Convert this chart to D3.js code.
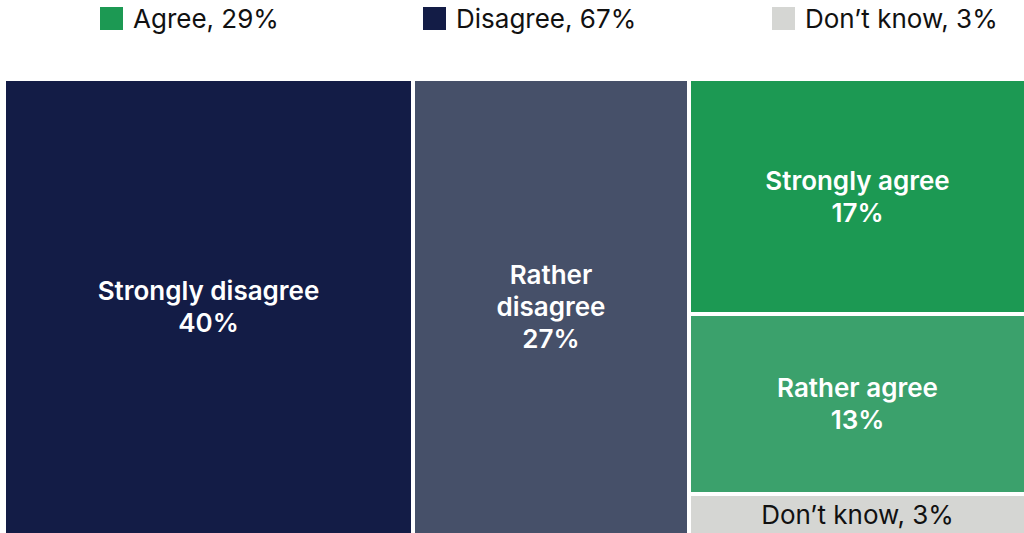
<!DOCTYPE html>
<html>
<head>
<meta charset="utf-8">
<script src="https://cdn.jsdelivr.net/npm/d3@7/dist/d3.min.js"></script>
<style>
  html, body { margin: 0; padding: 0; background: #ffffff; }
  svg { display: block; font-family: Inter, "Noto Sans", sans-serif; }
</style>
</head>
<body>
<svg id="chart" width="1024" height="533"></svg>
<script>
// Survey answers, in percent
const answers = ["Strongly disagree", "Rather disagree", "Strongly agree", "Rather agree", "Don\u2019t know"];
const shares = [40, 27, 17, 13, 3];
const groups = ["Disagree", "Disagree", "Agree", "Agree", "Don\u2019t know"];
const labelLines = [
  ["Strongly disagree", "40%"],
  ["Rather", "disagree", "27%"],
  ["Strongly agree", "17%"],
  ["Rather agree", "13%"],
  ["Don\u2019t know, 3%"]
];
const tileColors = ["#131c46", "#465069", "#1c9953", "#3ba16c", "#d5d6d3"];

// Legend entries
const legendNames = ["Agree", "Disagree", "Don\u2019t know"];
const legendTotals = [29, 67, 3];
const legendColors = ["#1c9953", "#131c46", "#d5d6d3"];

const W = 1024, H = 533;
const area = { x: 6, y: 81, w: 1018, h: 452 };
const svg = d3.select("#chart");

// Legend
const legendX = [100, 423, 772];
const legend = svg.append("g");
legendNames.forEach((name, i) => {
  const g = legend.append("g").attr("transform", `translate(${legendX[i]},7)`);
  g.append("rect").attr("width", 23).attr("height", 23).attr("fill", legendColors[i]);
  g.append("text")
    .attr("x", 33).attr("y", 21)
    .attr("font-size", 26)
    .attr("fill", "#111111")
    .text(`${name}, ${legendTotals[i]}%`);
});

// Hierarchy: disagree tiles as columns, agree + don't know stacked in the last column
const leaves = answers.map((a, i) => ({ name: a, value: shares[i], idx: i }));
const data = {
  name: "root",
  children: [leaves[0], leaves[1], { name: "rest", children: [leaves[2], leaves[3], leaves[4]] }]
};

const root = d3.hierarchy(data).sum(d => d.value || 0);
d3.treemap()
  .tile(d3.treemapSliceDice)
  .size([area.w, area.h])
  .paddingInner(4)
  .round(true)(root);

const tiles = svg.append("g").attr("transform", `translate(${area.x},${area.y})`);
const cell = tiles.selectAll("g.cell")
  .data(root.leaves())
  .join("g")
  .attr("class", "cell")
  .attr("transform", d => `translate(${d.x0},${d.y0})`);

cell.append("rect")
  .attr("width", d => d.x1 - d.x0)
  .attr("height", d => d.y1 - d.y0)
  .attr("fill", d => tileColors[d.data.idx]);

cell.each(function (d) {
  const i = d.data.idx;
  const lines = labelLines[i];
  const dark = i === 4;
  const lh = 32;
  const cx = (d.x1 - d.x0) / 2;
  const cy = (d.y1 - d.y0) / 2;
  const t = d3.select(this).append("text")
    .attr("text-anchor", "middle")
    .attr("font-size", 26)
    .attr("font-weight", dark ? 400 : 600)
    .attr("fill", dark ? "#111111" : "#ffffff");
  lines.forEach((ln, k) => {
    t.append("tspan")
      .attr("x", cx)
      .attr("y", cy + (k - (lines.length - 1) / 2) * lh)
      .attr("dy", "0.35em")
      .text(ln);
  });
});
</script>
</body>
</html>
